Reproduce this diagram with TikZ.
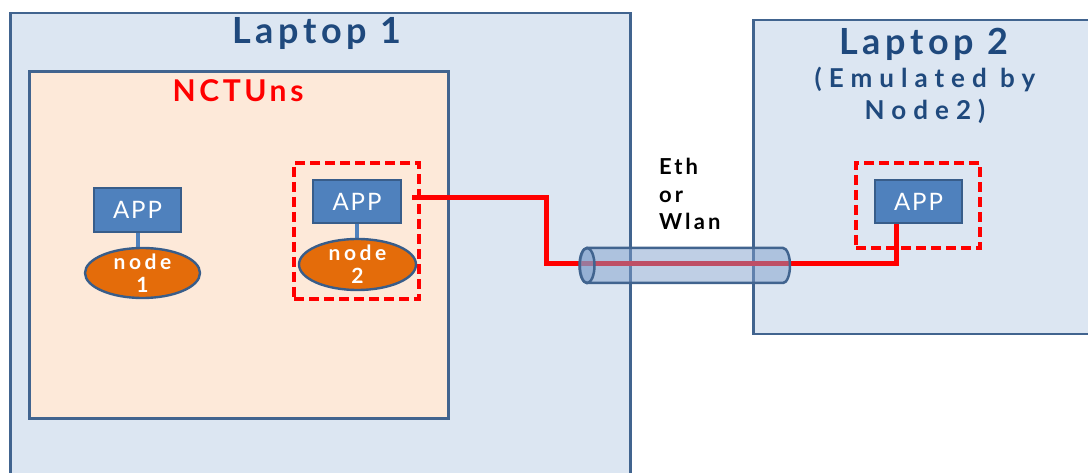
\documentclass[tikz,border=0pt]{standalone}
\usepackage{fontspec}
\setmainfont{Lato}
\newfontfamily\fA{Lato}[LetterSpace=13]
\newfontfamily\fN{Lato}[LetterSpace=12]
\newfontfamily\fB{Lato}[LetterSpace=27]
\newfontfamily\fC{Lato}[LetterSpace=17]
\newfontfamily\fE{Lato}[LetterSpace=14]
\newfontfamily\fD{Lato}[LetterSpace=8]
\usetikzlibrary{shapes.geometric}
\definecolor{lapfill}{HTML}{DCE6F2}
\definecolor{lapline}{HTML}{41648F}
\definecolor{nctfill}{HTML}{FDE9D9}
\definecolor{titleblue}{HTML}{1F497D}
\definecolor{appfill}{HTML}{4F81BD}
\definecolor{appline}{HTML}{385D8A}
\definecolor{simfill}{HTML}{E46C0A}
\definecolor{cylfill}{HTML}{7F9FCB}
\tikzset{
  laptop/.style={draw=lapline, line width=2.5pt, fill=lapfill, anchor=north west, inner sep=0},
  nct/.style={draw=lapline, line width=3.4pt, fill=nctfill, anchor=north west, inner sep=0},
  title/.style={text=titleblue, font=\fA\bfseries\fontsize{36}{38}\selectfont, inner sep=0, anchor=base},
  subtitle/.style={text=titleblue, font=\fB\bfseries\fontsize{26}{28}\selectfont, inner sep=0, anchor=base},
  nctlabel/.style={text=red, font=\fN\bfseries\fontsize{30}{32}\selectfont, inner sep=0, anchor=base},
  app/.style={draw=appline, line width=2pt, fill=appfill, text=white, font=\fD\fontsize{24}{26}\selectfont, inner sep=0, minimum height=43pt},
  sim/.style={ellipse, draw=appline, line width=2.4pt, fill=simfill, inner sep=0, minimum width=116pt, minimum height=50pt},
  simtext/.style={text=white, font=\fC\bfseries\fontsize{21}{23}\selectfont, align=center, inner sep=0},
  group/.style={draw=red, line width=3.2pt, dash pattern=on 10pt off 5pt, inner sep=0},
  stem/.style={draw=appfill, line width=4pt},
  link/.style={draw=red, line width=5pt},
  cyl/.style={draw=lapline, line width=2.5pt, fill=cylfill, fill opacity=0.5},
  media/.style={text=black, font=\fE\bfseries\fontsize{22}{27.5}\selectfont, align=left, inner sep=0, anchor=north west}
}
\begin{document}
\begin{tikzpicture}[x=1pt, y=-1pt]
\useasboundingbox (0,0) rectangle (1088,473);
% containers
\node[laptop, minimum width=620pt, minimum height=478pt] (lap1) at (9,12) {};
\node[laptop, minimum width=350pt, minimum height=314pt] (lap2) at (752,19) {};
\node[nct, minimum width=419pt, minimum height=347pt] (nct) at (28,70) {};
% titles
\node[title] (t1) at (317,44) {Laptop 1};
\node[nctlabel] (tn) at (238,102) {NCTUns};
\node[title] (t2) at (924,55) {Laptop 2};
\node[subtitle] (t2b) at (925,88) {(Emulated by};
\node[subtitle] (t2c) at (925,120) {Node2)};
\node[media] (eth) at (659,158) {Eth\\or\\Wlan};
% groups
\node[group, minimum width=125pt, minimum height=136pt] (grp2) at (356.5,231) {};
\node[group, minimum width=124pt, minimum height=85pt] (grp3) at (918,205.5) {};
% apps and simulated nodes
\node[app, minimum width=87pt, minimum height=44pt] (app1) at (137.5,210) {APP};
\node[app, minimum width=88pt] (app2) at (357,201.5) {APP};
\node[app, minimum width=87pt] (app3) at (918.5,201.5) {APP};
\draw[stem] (app1.south) -- ([yshift=-3pt]app1.south |- 0,248);
\draw[stem] (app2.south) -- ([yshift=-3pt]app2.south |- 0,239);
\node[sim, minimum width=115pt, label={[simtext]center:{node\\1}}] (sim1) at (142.5,273) {};
\node[sim, minimum width=117pt, minimum height=51pt, label={[simtext]center:{node\\2}}] (sim2) at (357.5,264.5) {};
% link
\coordinate (l0) at (412,198);
\coordinate (l1) at (546,264);
\coordinate (l2) at (896,264);
\draw[link] (l0) -| (l1) -- (l2) -- (l2 |- app3.south);
% cable
\path[cyl] (587,248) -- (783,248)
  arc[start angle=90, end angle=-90, x radius=7pt, y radius=17.5pt]
  -- (587,283)
  arc[start angle=270, end angle=90, x radius=7pt, y radius=17.5pt] -- cycle;
\path[cyl] (587,265.5) ellipse[x radius=7.5pt, y radius=17.5pt];
\end{tikzpicture}
\end{document}
